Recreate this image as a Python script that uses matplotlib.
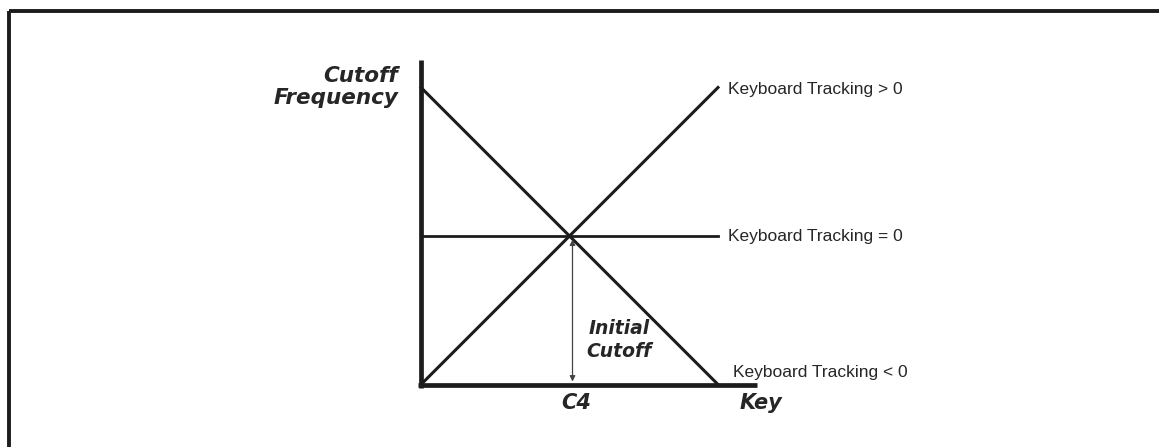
import matplotlib
matplotlib.use("Agg")
import matplotlib.pyplot as plt
from matplotlib.lines import Line2D

# ---- data (normalised key / cutoff units) ----
key_range = [0.0, 1.0]
tracking_positive = [0.0, 1.0]     # Keyboard Tracking > 0
tracking_zero = [0.5, 0.5]         # Keyboard Tracking = 0
tracking_negative = [1.0, 0.0]     # Keyboard Tracking < 0
c4_key = 0.5
initial_cutoff = 0.5
series_labels = ["Keyboard Tracking > 0", "Keyboard Tracking = 0", "Keyboard Tracking < 0"]
y_axis_label = "Cutoff\nFrequency"
x_axis_label = "Key"
x_tick_label = "C4"
marker_label = "Initial\nCutoff"

W, H = 1159, 447
fig = plt.figure(figsize=(W / 100, H / 100), dpi=100)
ax = fig.add_axes([0, 0, 1, 1])

X0, Y0, S = 421.0, 384.5, 297.0
def dx(px):
    return (px - X0) / S
def dy(py):
    return (Y0 - py) / S

ax.set_xlim(dx(0), dx(W))
ax.set_ylim(dy(H), dy(0))
ax.axis("off")

ink = "#1c1c1c"
txt = "#262626"

# outer frame (top and left edges)
fig.add_artist(Line2D([9 / W, 1.0], [1 - 11 / H, 1 - 11 / H], color=ink, lw=2.8,
                      transform=fig.transFigure, solid_capstyle="butt"))
fig.add_artist(Line2D([9 / W, 9 / W], [0, 1 - 11 / H], color=ink, lw=2.8,
                      transform=fig.transFigure, solid_capstyle="butt"))

# axes
ax.plot([0, 0], [dy(388), dy(60)], color=ink, lw=3.4, solid_capstyle="butt")
ax.plot([dx(418), dx(757)], [0, 0], color=ink, lw=3.4, solid_capstyle="butt")

# tracking lines
ax.plot(key_range, tracking_positive, color=ink, lw=2.2)
ax.plot(key_range, tracking_zero, color=ink, lw=2.0)
ax.plot(key_range, tracking_negative, color=ink, lw=2.2)

# initial cutoff arrow
ax_x = c4_key + dx(573) - dx(570)
ax.annotate("", xy=(ax_x, 0.01), xytext=(ax_x, initial_cutoff - 0.012),
            arrowprops=dict(arrowstyle="<|-|>", color="#444444", lw=0.9,
                            mutation_scale=8, shrinkA=0, shrinkB=0))

# series labels
label_font = dict(family=["Liberation Sans", "DejaVu Sans"],
                  fontsize=12.5, color=txt, va="center", ha="left")
ax.text(dx(728), tracking_positive[-1] + dy(88) - dy(86.5), series_labels[0], **label_font)
ax.text(dx(728), tracking_zero[-1] + dy(237) - dy(236), series_labels[1], **label_font)
ax.text(dx(733), dy(372), series_labels[2], **label_font)

bold_font = dict(family="DejaVu Sans", fontweight="bold", fontstyle="italic", color=txt)
ax.text(dx(398), dy(87), y_axis_label, ha="right", va="center", fontsize=15.5,
        linespacing=1.12, **bold_font)
ax.text(c4_key + dx(576) - dx(569.5), dy(403), x_tick_label, ha="center", va="center",
        fontsize=15, **bold_font)
ax.text(dx(740), dy(403), x_axis_label, ha="left", va="center", fontsize=15, **bold_font)
ax.text(dx(619), dy(340), marker_label, ha="center", va="center", fontsize=13.5,
        linespacing=1.3, **bold_font)

fig.savefig("out.png", dpi=100, facecolor="white")
